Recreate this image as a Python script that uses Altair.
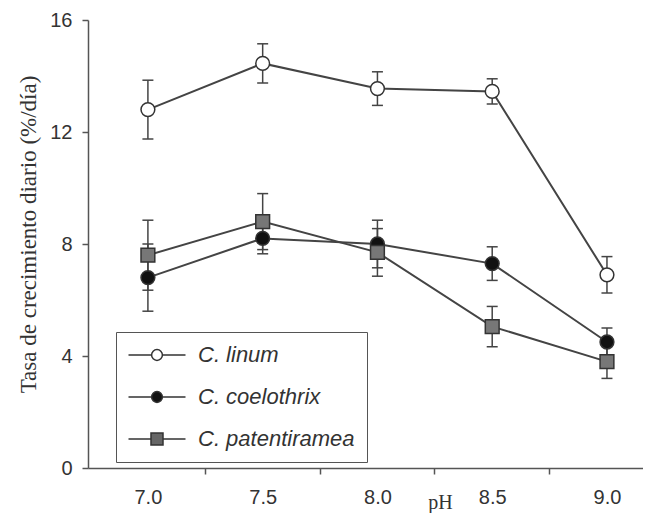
import altair as alt
import pandas as pd

ph = [7.0, 7.5, 8.0, 8.5, 9.0]
series = ["C. linum", "C. coelothrix", "C. patentiramea"]
linum_mean = [12.8, 14.45, 13.55, 13.45, 6.9]
linum_err = [1.05, 0.7, 0.6, 0.45, 0.65]
coel_mean = [6.8, 8.2, 8.0, 7.3, 4.5]
coel_err = [1.2, 0.55, 0.85, 0.6, 0.5]
pat_mean = [7.6, 8.8, 7.7, 5.05, 3.8]
pat_err = [1.25, 1.0, 0.85, 0.72, 0.6]

fills = ["white", "#111111", "#777777"]
shapes = ["circle", "circle", "square"]

rows = []
for name, means, errs in zip(series, [linum_mean, coel_mean, pat_mean], [linum_err, coel_err, pat_err]):
    for p, m, e in zip(ph, means, errs):
        rows.append({"pH": p, "series": name, "mean": m, "lo": m - e, "hi": m + e})
df = pd.DataFrame(rows)

# legend symbols: line through marker
leg_circle = "M-4.75,0L-0.9,0M0.9,0L4.75,0M-0.9,0A0.9,0.9,0,1,0,0.9,0A0.9,0.9,0,1,0,-0.9,0Z"
leg_square = "M-4.75,0L-1,0M1,0L4.75,0M-1,-1L1,-1L1,1L-1,1Z"

x_enc = alt.X(
    "pH:Q",
    scale=alt.Scale(domain=[6.739, 9.157], nice=False, zero=False),
    axis=alt.Axis(
        values=ph, format=".1f", tickOffset=57, labelOffset=-57,
        title="pH", titleX=352, titleY=40, titleBaseline="alphabetic",
        titleFont="Liberation Serif", titleFontSize=20, titleFontWeight="normal",
        titleColor="#333",
    ),
)
y_scale = alt.Scale(domain=[0, 16], nice=False)

base = alt.Chart(df)

err_rule = base.mark_rule(color="#444", strokeWidth=1.5).encode(
    x=x_enc, y=alt.Y("lo:Q", scale=y_scale), y2="hi:Q", detail="series:N"
)
cap_lo = base.mark_point(shape="stroke", size=121, color="#444", strokeWidth=1.5, opacity=1).encode(
    x=x_enc, y=alt.Y("lo:Q", scale=y_scale)
)
cap_hi = base.mark_point(shape="stroke", size=121, color="#444", strokeWidth=1.5, opacity=1).encode(
    x=x_enc, y=alt.Y("hi:Q", scale=y_scale)
)
lines = base.mark_line(color="#444", strokeWidth=2).encode(
    x=x_enc,
    y=alt.Y(
        "mean:Q", scale=y_scale,
        axis=alt.Axis(
            values=[0, 4, 8, 12, 16], title="Tasa de crecimiento  diario (%/día)",
            titleX=-53, titleY=214, titleBaseline="alphabetic", titleAngle=270,
            titleFont="Liberation Serif", titleFontSize=23, titleFontWeight="normal",
            titleColor="#333",
        ),
    ),
    detail="series:N",
)
points = base.mark_point(filled=True, size=190, stroke="#333", strokeWidth=1.5, opacity=1).encode(
    x=x_enc,
    y=alt.Y("mean:Q", scale=y_scale),
    shape=alt.Shape("series:N", scale=alt.Scale(domain=series, range=shapes), legend=None),
    fill=alt.Fill("series:N", scale=alt.Scale(domain=series, range=fills), legend=None),
)

leg_props = dict(
    orient="none", legendX=28, legendY=312, title=None,
    strokeColor="#555", padding=12, rowPadding=20,
    labelFont="Liberation Sans", labelFontSize=22, labelFontStyle="italic", labelColor="#333",
    symbolOffset=18, labelOffset=30, symbolSize=144,
    symbolStrokeColor="#333", symbolStrokeWidth=1.5,
)
legend_layer = base.mark_point(filled=True, size=144, strokeWidth=1.5, opacity=1).encode(
    x=x_enc,
    y=alt.Y("mean:Q", scale=y_scale),
    shape=alt.Shape("series:N", scale=alt.Scale(domain=series, range=[leg_circle, leg_circle, leg_square]),
                    legend=alt.Legend(**leg_props)),
    fill=alt.Fill("series:N", scale=alt.Scale(domain=series, range=["white", "#111111", "#666666"]),
                  legend=alt.Legend(**leg_props)),
    stroke=alt.Stroke("series:N", scale=alt.Scale(domain=series, range=["#333333", "#333333", "#333333"]),
                      legend=alt.Legend(**leg_props)),
).transform_filter("false")

chart = alt.layer(err_rule, cap_lo, cap_hi, lines, points, legend_layer).resolve_scale(
    shape="independent", fill="independent", stroke="independent"
).properties(
    width=555, height=448,
    padding={"left": 80, "top": 12, "right": 0, "bottom": 45},
    autosize=alt.AutoSizeParams(type="none"),
    background="white",
).configure_view(stroke=None).configure_axis(
    grid=False, domainColor="#555", domainWidth=1.5, tickColor="#555", tickWidth=1.5,
    tickSize=6, labelFont="Liberation Sans", labelFontSize=20, labelColor="#333",
    labelPadding=10,
).configure_axisX(labelPadding=13)

chart.save("out.html", embed_options={"renderer": "svg", "actions": False})
